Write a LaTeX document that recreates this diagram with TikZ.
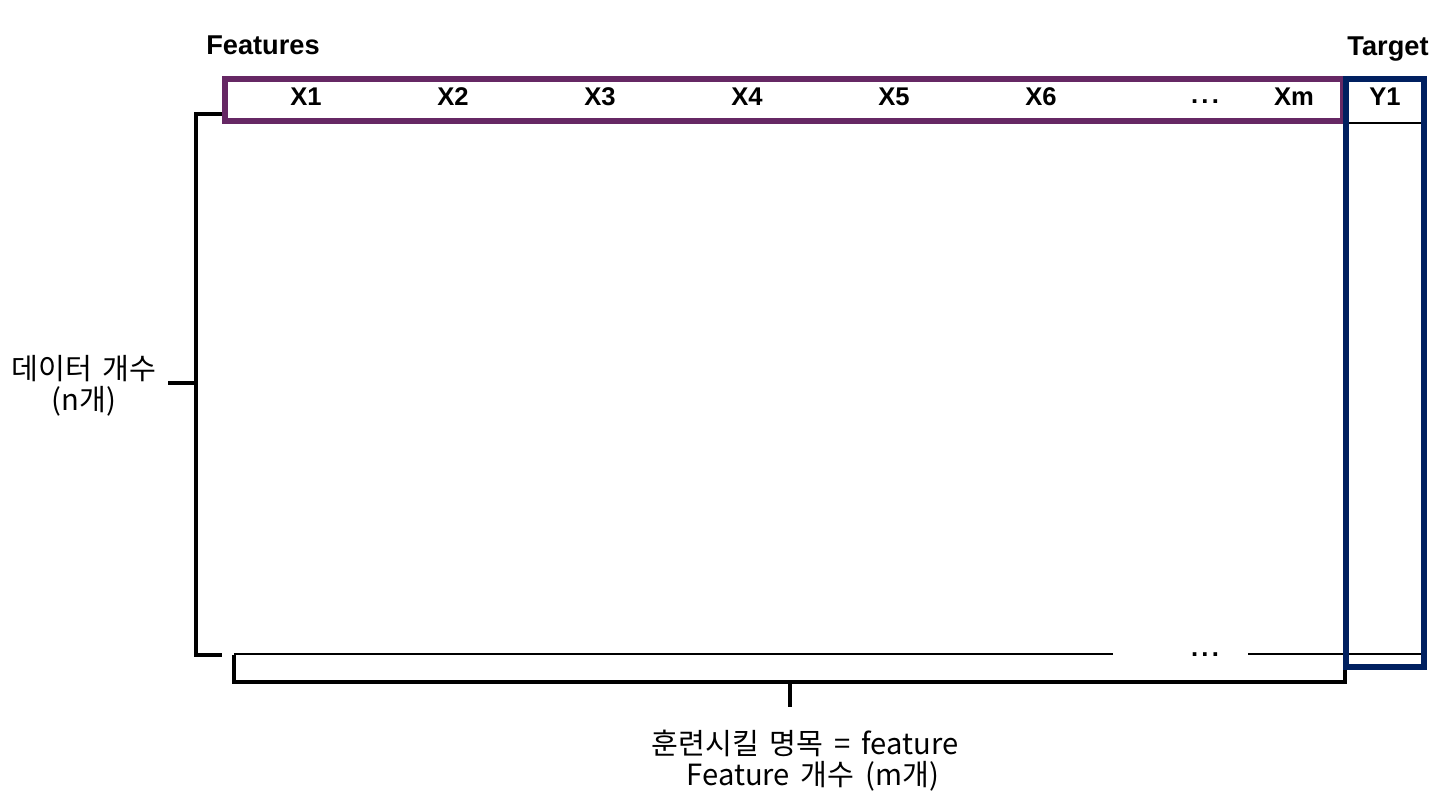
\documentclass[tikz,border=0pt]{standalone}
\usepackage{fontspec}
\setmainfont{Liberation Sans}
\newfontfamily\kofont{Noto Sans CJK KR}
\usepackage{xcolor}
\usetikzlibrary{positioning, calc}
\definecolor{featpurple}{RGB}{102,40,100}
\definecolor{targetnavy}{RGB}{0,32,96}
\newcommand{\spdots}{.\hspace{1.6pt}.\hspace{1.6pt}.}
\newcommand{\kolabelfont}{\kofont\fontsize{14.6}{15.5}\selectfont\spaceskip=5.5pt\relax}

\begin{document}
\begin{tikzpicture}[x=0.5pt, y=-0.5pt,
    colhead/.style={font=\bfseries\fontsize{12.8}{14}\selectfont, inner sep=0pt, anchor=base},
    title/.style={font=\bfseries\fontsize{13.6}{15}\selectfont, inner sep=0pt, anchor=base},
    kolabel/.style={font=\kolabelfont, align=center, inner sep=0pt},
    bracket/.style={line width=2pt, black},
    rowline/.style={line width=0.6pt, black}
]
\useasboundingbox (0,0) rectangle (1448,807);

% column headers
\node[title] (feat) at (263,55) {Features};
\node[title] (targ) at (1388,56) {Target};
\foreach \name/\x in {X1/306, X2/453, X3/600, X4/747, X5/894, X6/1041}
  \node[colhead] (\name) at (\x,106) {\name};
\node[colhead] (dots) at (1205,104) {\spdots};
\node[colhead] (Xm) at (1294,106) {Xm};
\node[colhead] (Y1) at (1385,106) {Y1};

% row lines
\coordinate (rowL) at (234,654);
\coordinate (rowM1) at (1113,654);
\coordinate (rowM2) at (1248,654);
\coordinate (rowR) at (1427,654);
\node[colhead] (rdots) at (1205,657) {\spdots};
\draw[rowline] (rowL) -- (rowM1);
\draw[rowline] (rowM2) -- (rowR);
\draw[rowline] (1346,123) -- (1425,123);

% left bracket: number of rows
\coordinate (lt) at (222,114);
\coordinate (lb) at (222,655);
\coordinate (ltick) at (168,383);
\draw[bracket] (lt) -- (196,114) -- (196,655) -- (lb);
\draw[bracket] (ltick) -- (196,383);
\node[kolabel] (nrows) at (84,386) {데이터 개수\\(n개)};

% bottom bracket: number of features
\coordinate (bl) at (234,655);
\coordinate (br) at (1345,655);
\coordinate (btick) at (790,707);
\draw[bracket] (bl) -- (234,682) -- (1345,682) -- (br);
\draw[bracket] (790,682) -- (btick);
\node[kolabel] (mcols) at (805,761) {훈련시킬 명목 = feature\\\hspace{8pt}Feature 개수 (m개)};

% feature and target frames
\draw[featpurple, line width=3pt] (225,79) rectangle (1343,121);
\draw[targetnavy, line width=3pt] (1346,79) rectangle (1424,667);
\end{tikzpicture}
\end{document}
